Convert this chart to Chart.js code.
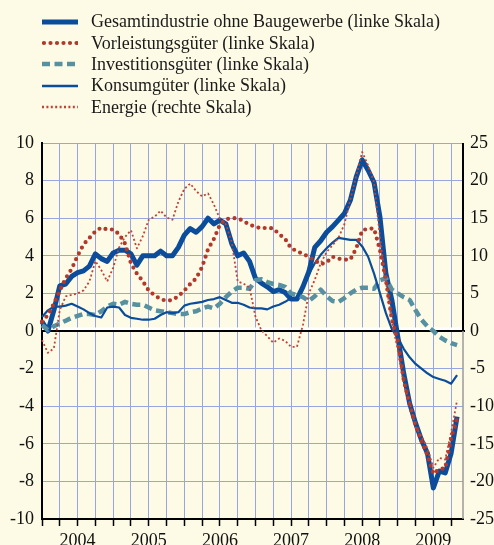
<!DOCTYPE html>
<html>
<head>
<meta charset="utf-8">
<script src="https://cdn.jsdelivr.net/npm/chart.js@4.4.0/dist/chart.umd.min.js"></script>
<style>
  html, body { margin: 0; padding: 0; background: #fdfbe6; }
  #wrap { position: relative; width: 494px; height: 545px; }
  #legend { position: absolute; left: 42px; top: 11px; font: 18px 'Liberation Serif', 'Times New Roman', serif; color: #1a1a1a; }
  .item { height: 21.4px; display: flex; align-items: center; white-space: nowrap; }
  .item svg { width: 36px; height: 10px; margin-right: 13px; flex: none; }
</style>
</head>
<body>
<div id="wrap">
  <canvas id="chart" width="494" height="545"></canvas>
  <div id="legend"></div>
</div>
<script>
// Monthly data, Jan 2004 - Nov 2009 (year-on-year change, %)
const years = [2004, 2005, 2006, 2007, 2008, 2009];
const months = years.flatMap(y => Array.from({ length: 12 }, (_, m) => (m + 1) + '/' + y));

const gesamt = [0.5, 0.0, 1.1, 2.4, 2.5, 2.9, 3.1, 3.2, 3.45, 4.1, 3.85, 3.7,
  4.15, 4.3, 4.3, 4.1, 3.5, 4.0, 4.0, 4.0, 4.25, 4.0, 4.0, 4.45,
  5.1, 5.45, 5.25, 5.55, 6.0, 5.7, 5.9, 5.7, 4.65, 4.0, 4.15, 3.7,
  2.8, 2.55, 2.35, 2.1, 2.2, 2.05, 1.7, 1.7, 2.35, 3.15, 4.45, 4.8,
  5.25, 5.55, 5.9, 6.25, 6.95, 8.2, 9.1, 8.55, 7.9, 6.05, 3.05, 1.65,
  -0.3, -2.25, -3.85, -4.9, -5.8, -6.5, -8.35, -7.45, -7.55, -6.5, -4.55];

const vorleistung = [0.5, 0.85, 1.45, 2.15, 2.8, 3.3, 4.0, 4.6, 4.95, 5.3, 5.5, 5.4,
  5.4, 5.15, 4.65, 3.6, 3.05, 2.65, 2.15, 1.9, 1.7, 1.6, 1.65, 1.85,
  2.15, 2.5, 2.8, 3.4, 4.35, 4.9, 5.65, 5.95, 6.0, 6.0, 5.85, 5.65,
  5.55, 5.45, 5.5, 5.45, 5.15, 4.9, 4.4, 4.25, 4.1, 3.95, 3.75, 3.55,
  3.65, 3.95, 3.85, 3.8, 3.8, 4.4, 5.35, 5.45, 5.45, 4.3, 2.7, 0.6,
  -0.5, -2.6, -3.9, -5.0, -5.85, -6.6, -7.6, -7.35, -7.3, -5.7, -4.7];

const investition = [0.3, 0.05, 0.25, 0.4, 0.55, 0.7, 0.8, 0.9, 0.9, 0.85, 1.05, 1.3,
  1.45, 1.4, 1.55, 1.45, 1.4, 1.4, 1.25, 1.1, 1.05, 1.0, 0.95, 0.9,
  0.9, 1.0, 1.05, 1.2, 1.3, 1.2, 1.45, 1.8, 2.1, 2.3, 2.3, 2.25,
  2.7, 2.75, 2.6, 2.5, 2.45, 2.35, 2.0, 1.9, 1.8, 1.6, 1.85, 2.2,
  1.85, 1.6, 1.55, 1.75, 2.0, 2.2, 2.3, 2.3, 2.25, 2.7, 2.8, 2.2,
  2.0, 1.8, 1.65, 1.1, 0.6, 0.25, 0.0, -0.3, -0.5, -0.65, -0.75];

const konsum = [0.75, 1.1, 1.3, 1.3, 1.35, 1.45, 1.3, 1.15, 0.95, 0.8, 0.72, 1.25,
  1.3, 1.25, 0.85, 0.7, 0.65, 0.6, 0.6, 0.65, 0.85, 1.0, 0.95, 1.0,
  1.35, 1.45, 1.5, 1.55, 1.65, 1.7, 1.8, 1.65, 1.5, 1.5, 1.4, 1.25,
  1.2, 1.2, 1.15, 1.3, 1.4, 1.55, 1.75, 1.7, 2.3, 3.0, 3.6, 4.05,
  4.4, 4.7, 4.95, 4.9, 4.85, 4.85, 4.5, 3.95, 3.05, 2.0, 0.95, 0.1,
  -0.35, -0.95, -1.4, -1.75, -2.0, -2.25, -2.45, -2.55, -2.65, -2.8, -2.35];

// right scale
const energie = [-1.2, -2.9, -2.3, 2.8, 4.6, 4.8, 5.0, 5.4, 6.6, 9.3, 8.1, 6.6,
  8.4, 11.1, 12.5, 13.4, 11.0, 12.6, 14.8, 15.2, 16.0, 15.1, 14.8, 17.2,
  18.9, 19.6, 18.6, 17.9, 18.3, 16.8, 14.9, 14.2, 11.8, 6.6, 6.3, 5.8,
  1.9, 0.1, -0.7, -1.55, -1.0, -1.3, -2.1, -2.1, 0.8, 5.0, 6.8, 9.0,
  10.5, 11.4, 12.4, 14.2, 17.5, 20.6, 23.8, 22.0, 19.8, 12.5, 6.5, 1.3,
  -2.5, -7.0, -9.5, -12.8, -14.0, -15.6, -18.2, -16.9, -17.1, -13.5, -9.2];

const leftTicks = { min: -10, max: 10, step: 2 };
const rightTicks = { min: -25, max: 25, step: 5 };

const blue = '#0b4d9a';
const red = '#b2382c';
const teal = '#5790a0';
const gridColor = '#97a6de';
const font = { family: "'Liberation Serif', 'Times New Roman', serif", size: 18 };

const series = [
  { label: 'Gesamtindustrie ohne Baugewerbe (linke Skala)', data: gesamt, color: blue, width: 5, dash: [], cap: 'butt', axis: 'y', order: 5 },
  { label: 'Vorleistungsgüter (linke Skala)', data: vorleistung, color: red, width: 4.2, dash: [0, 6.5], cap: 'round', axis: 'y', order: 2 },
  { label: 'Investitionsgüter (linke Skala)', data: investition, color: teal, width: 4.5, dash: [8, 4.5], cap: 'butt', axis: 'y', order: 4 },
  { label: 'Konsumgüter (linke Skala)', data: konsum, color: blue, width: 2.2, dash: [], cap: 'butt', axis: 'y', order: 3 },
  { label: 'Energie (rechte Skala)', data: energie, color: '#bd4436', width: 1.8, dash: [2, 2.4], cap: 'butt', axis: 'y1', order: 1 }
];

// zero line (white + black) and right frame
const frame = {
  id: 'frame',
  beforeDatasetsDraw(chart) {
    const { ctx, chartArea: a, scales: { y } } = chart;
    const y0 = y.getPixelForValue(0);
    ctx.save();
    ctx.strokeStyle = '#ffffff';
    ctx.lineWidth = 2.5;
    ctx.beginPath(); ctx.moveTo(a.left, y0 - 2.2); ctx.lineTo(a.right, y0 - 2.2); ctx.stroke();
    ctx.strokeStyle = '#000';
    ctx.lineWidth = 2;
    ctx.beginPath(); ctx.moveTo(a.left, y0); ctx.lineTo(a.right + 2, y0); ctx.stroke();
    ctx.beginPath(); ctx.moveTo(a.right, a.top); ctx.lineTo(a.right, y0); ctx.stroke();
    ctx.strokeStyle = '#9a9a9a';
    ctx.lineWidth = 1.5;
    ctx.beginPath(); ctx.moveTo(a.right, y0); ctx.lineTo(a.right, a.bottom); ctx.stroke();
    ctx.restore();
  }
};

new Chart(document.getElementById('chart'), {
  type: 'line',
  data: {
    labels: months,
    datasets: series.map(s => ({
      label: s.label,
      data: s.data,
      borderColor: s.color,
      borderWidth: s.width,
      borderDash: s.dash,
      borderCapStyle: s.cap,
      borderJoinStyle: 'round',
      pointRadius: 0,
      tension: 0,
      yAxisID: s.axis,
      order: s.order
    }))
  },
  options: {
    responsive: false,
    animation: false,
    layout: { padding: { top: 143, left: 0, right: 0, bottom: 0 } },
    plugins: { legend: { display: false }, tooltip: { enabled: false } },
    scales: {
      x: {
        type: 'category',
        offset: false,
        grid: {
          color: c => c.index % 3 === 0 ? gridColor : 'transparent',
          tickColor: c => c.index % 3 === 0 ? '#000' : 'transparent',
          tickLength: 7,
          tickWidth: 1.5
        },
        border: { color: '#000', width: 2 },
        ticks: {
          autoSkip: false,
          maxRotation: 0,
          padding: 4,
          color: '#111',
          font,
          callback: (v, i) => i % 12 === 6 ? String(years[Math.floor(i / 12)]) : ''
        },
        afterFit(s) { s.height = 26; }
      },
      y: {
        position: 'left',
        min: leftTicks.min,
        max: leftTicks.max,
        ticks: { stepSize: leftTicks.step, padding: 8, color: '#111', font },
        grid: { color: c => c.tick.value === 0 ? 'transparent' : gridColor, drawTicks: false },
        border: { color: '#000', width: 2 },
        afterFit(s) { s.width = 42; }
      },
      y1: {
        position: 'right',
        min: rightTicks.min,
        max: rightTicks.max,
        ticks: { stepSize: rightTicks.step, padding: 7, color: '#111', font },
        grid: { display: false, drawTicks: false },
        border: { display: false },
        afterFit(s) { s.width = 31; }
      }
    }
  },
  plugins: [frame]
});

// legend
const legend = document.getElementById('legend');
series.forEach(s => {
  const row = document.createElement('div');
  row.className = 'item';
  const cap = s.cap === 'round' ? 'round' : 'butt';
  row.innerHTML = '<svg viewBox="0 0 36 10"><line x1="' + (cap === 'round' ? 2 : 0) + '" y1="5" x2="36" y2="5" stroke="' + s.color +
    '" stroke-width="' + Math.max(s.width, 2.5) + '" stroke-linecap="' + cap + '" stroke-dasharray="' + (s.dash.length ? s.dash.join(' ') : 'none') + '"/></svg>';
  const t = document.createElement('span');
  t.textContent = s.label;
  row.appendChild(t);
  legend.appendChild(row);
});
</script>
</body>
</html>
